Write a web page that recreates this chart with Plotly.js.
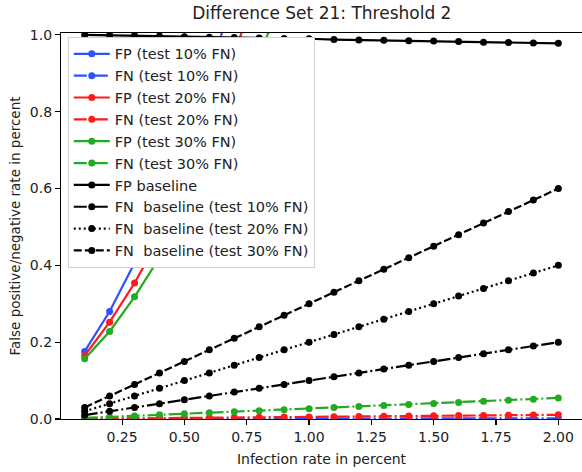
<!DOCTYPE html>
<html>
<head>
<meta charset="utf-8">
<script src="https://cdn.plot.ly/plotly-3.0.1.min.js"></script>
<style>
  html, body { margin: 0; padding: 0; background: #fff; }
  #chart { width: 582px; height: 472px; }
</style>
</head>
<body>
<div id="chart"></div>
<script>
// Infection rate (x values)
const infectionRate = [0.1,0.2,0.3,0.4,0.5,0.6,0.7,0.8,0.9,1.0,1.1,1.2,1.3,1.4,1.5,1.6,1.7,1.8,1.9,2.0];

// FP test series (rise steeply; clipped above 1.0)
const fpTest10 = [0.176, 0.280, 0.406, 0.56, 0.72, 0.90, 1.11];
const fpTest20 = [0.165, 0.252, 0.354, 0.47, 0.61, 0.77, 0.95, 1.14];
const fpTest30 = [0.157, 0.228, 0.318, 0.42, 0.54, 0.67, 0.81, 0.95, 1.10];

// FN test series
const fnTest10 = [0.0001,0.0002,0.0003,0.0004,0.0005,0.0006,0.0007,0.0008,0.0009,0.0010,0.0011,0.0012,0.0013,0.0014,0.0015,0.0016,0.0017,0.0018,0.0019,0.0020];
const fnTest20 = [0.0006,0.0011,0.0017,0.0022,0.0028,0.0033,0.0039,0.0044,0.0050,0.0055,0.0061,0.0066,0.0072,0.0077,0.0083,0.0088,0.0094,0.0099,0.0105,0.0110];
const fnTest30 = [0.0027,0.0054,0.0081,0.0108,0.0135,0.0162,0.0189,0.0216,0.0243,0.0270,0.0297,0.0324,0.0351,0.0378,0.0405,0.0432,0.0459,0.0486,0.0513,0.0550];

// Baselines
const fpBaseline = [1.000,0.999,0.998,0.997,0.995,0.994,0.993,0.992,0.991,0.990,0.988,0.987,0.986,0.985,0.984,0.983,0.981,0.980,0.979,0.978];
const fnBase10 = [0.01,0.02,0.03,0.04,0.05,0.06,0.07,0.08,0.09,0.10,0.11,0.12,0.13,0.14,0.15,0.16,0.17,0.18,0.19,0.20];
const fnBase20 = [0.02,0.04,0.06,0.08,0.10,0.12,0.14,0.16,0.18,0.20,0.22,0.24,0.26,0.28,0.30,0.32,0.34,0.36,0.38,0.40];
const fnBase30 = [0.03,0.06,0.09,0.12,0.15,0.18,0.21,0.24,0.27,0.30,0.33,0.36,0.39,0.42,0.45,0.48,0.51,0.54,0.57,0.60];

const labels = [
  "FP (test 10% FN)", "FN (test 10% FN)",
  "FP (test 20% FN)", "FN (test 20% FN)",
  "FP (test 30% FN)", "FN (test 30% FN)",
  "FP baseline",
  "FN  baseline (test 10% FN)",
  "FN  baseline (test 20% FN)",
  "FN  baseline (test 30% FN)"
];

const BLUE = "#2f50ff", RED = "#ff1a1a", GREEN = "#22aa22", BLACK = "#000000";
const DASH = "8px,3px", DASHDOT = "13px,3px,2px,3px", DOT = "2px,3px";

function tr(y, name, color, dash) {
  return {
    x: infectionRate.slice(0, y.length), y: y, name: name,
    type: "scatter", mode: "lines+markers",
    line: { color: color, width: 2.2, dash: dash },
    marker: { color: color, size: 7 }
  };
}

const data = [
  tr(fpTest10, labels[0], BLUE, "solid"),
  tr(fnTest10, labels[1], BLUE, DASHDOT),
  tr(fpTest20, labels[2], RED, "solid"),
  tr(fnTest20, labels[3], RED, DASHDOT),
  tr(fpTest30, labels[4], GREEN, "solid"),
  tr(fnTest30, labels[5], GREEN, DASHDOT),
  tr(fpBaseline, labels[6], BLACK, "solid"),
  tr(fnBase10, labels[7], BLACK, DASHDOT),
  tr(fnBase20, labels[8], BLACK, DOT),
  tr(fnBase30, labels[9], BLACK, DASH)
];

const FONT = "DejaVu Sans, sans-serif";
const layout = {
  width: 582, height: 472,
  margin: { l: 61, r: 0, t: 33, b: 53, pad: 0 },
  paper_bgcolor: "#fff", plot_bgcolor: "#fff",
  font: { family: FONT, size: 14, color: "#222" },
  title: { text: "Difference Set 21: Threshold 2", font: { family: FONT, size: 17, color: "#222" },
           x: 0.553, xanchor: "center", y: 0.985, yanchor: "top" },
  showlegend: true,
  legend: {
    x: 0.013, y: 0.99, xanchor: "left", yanchor: "top",
    bgcolor: "#ffffff", bordercolor: "#d0d0d0", borderwidth: 1,
    font: { family: FONT, size: 14.5, color: "#222" },
    itemwidth: 36, tracegroupgap: 0
  },
  xaxis: {
    range: [0.005, 2.095],
    tickvals: [0.25,0.5,0.75,1.0,1.25,1.5,1.75,2.0],
    tickformat: ".2f",
    ticks: "outside", ticklen: 5, tickwidth: 1.1, tickcolor: "#000",
    showline: true, linecolor: "#000", linewidth: 1.1, mirror: true,
    showgrid: false, zeroline: false,
    tickfont: { family: FONT, size: 14, color: "#222" },
    title: { text: "Infection rate in percent", font: { family: FONT, size: 14, color: "#222" }, standoff: 10 }
  },
  yaxis: {
    range: [0, 1.005],
    tickvals: [0,0.2,0.4,0.6,0.8,1.0],
    tickformat: ".1f",
    ticks: "outside", ticklen: 5, tickwidth: 1.1, tickcolor: "#000",
    showline: true, linecolor: "#000", linewidth: 1.1, mirror: true,
    showgrid: false, zeroline: false,
    tickfont: { family: FONT, size: 14, color: "#222" },
    title: { text: "False positive/negative rate in percent", font: { family: FONT, size: 13.5, color: "#222" }, standoff: 6 }
  }
};

Plotly.newPlot("chart", data, layout, { displayModeBar: false, staticPlot: true });
</script>
</body>
</html>
